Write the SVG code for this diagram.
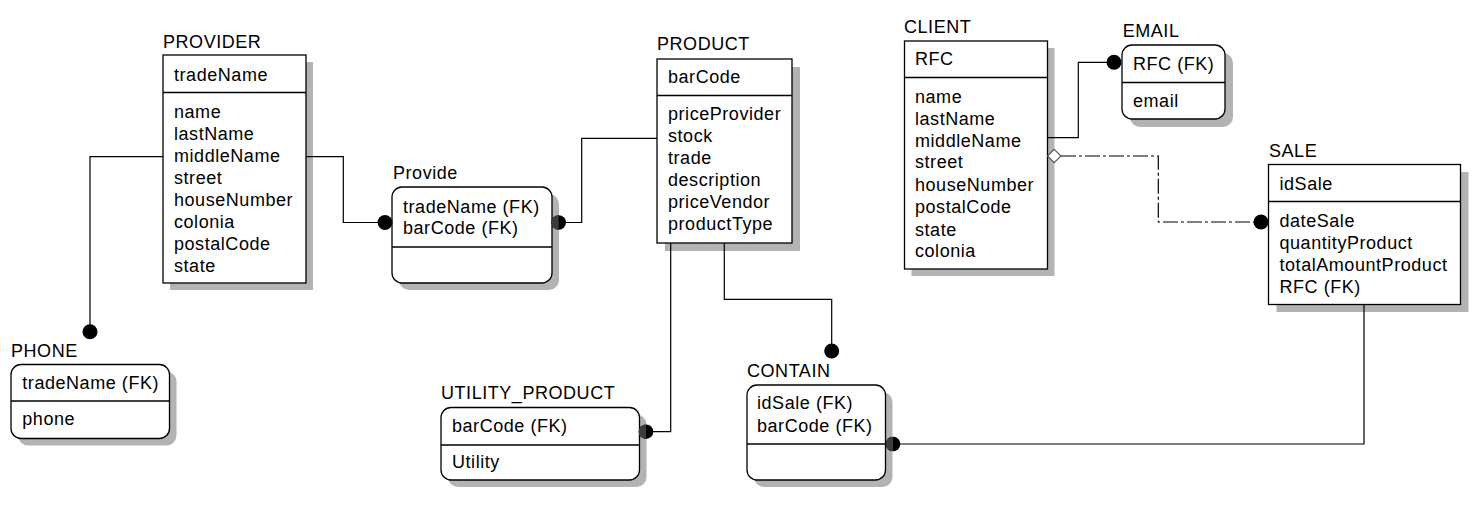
<svg xmlns="http://www.w3.org/2000/svg" width="1479" height="516" viewBox="0 0 1479 516">
<style>
text{font-family:"Liberation Sans",Arial,sans-serif;font-size:18px;letter-spacing:0.55px;fill:#000}
.box{fill:#fff;stroke:#000;stroke-width:1.3}
.sh{fill:#b3b3b3}
.sep{stroke:#000;stroke-width:1.3}
.conn{fill:none;stroke:#000;stroke-width:1.2}
.dash{stroke-dasharray:15 3 3 3}
.dot{fill:#000}
.half{fill:#3c3c3c}
</style>
<rect width="1479" height="516" fill="#fff"/>
<g id="PROVIDER">
<rect class="sh" x="170" y="62" width="143" height="228"/>
<rect class="box" x="163" y="55" width="143" height="228"/>
<line class="sep" x1="163" y1="92.5" x2="306" y2="92.5"/>
<text x="163" y="48.3">PROVIDER</text>
<text x="174" y="81">tradeName</text>
<text x="174" y="117.7">name</text>
<text x="174" y="139.7">lastName</text>
<text x="174" y="161.7">middleName</text>
<text x="174" y="183.5">street</text>
<text x="174" y="205.5">houseNumber</text>
<text x="174" y="227.5">colonia</text>
<text x="174" y="249.7">postalCode</text>
<text x="174" y="271.7">state</text>
</g>
<g id="Provide">
<rect class="sh" x="399" y="194" width="160" height="96" rx="10"/>
<rect class="box" x="392" y="187" width="160" height="96" rx="10"/>
<line class="sep" x1="392" y1="247" x2="552" y2="247"/>
<text x="393" y="179.3">Provide</text>
<text x="403" y="212.7">tradeName (FK)</text>
<text x="403" y="234">barCode (FK)</text>
</g>
<g id="PRODUCT">
<rect class="sh" x="665" y="67" width="135" height="184"/>
<rect class="box" x="657" y="59" width="135" height="184"/>
<line class="sep" x1="657" y1="95.5" x2="792" y2="95.5"/>
<text x="657" y="50">PRODUCT</text>
<text x="668" y="83.3">barCode</text>
<text x="668" y="120">priceProvider</text>
<text x="668" y="142.3">stock</text>
<text x="668" y="164">trade</text>
<text x="668" y="186">description</text>
<text x="668" y="208.3">priceVendor</text>
<text x="668" y="230">productType</text>
</g>
<g id="CLIENT">
<rect class="sh" x="911.5" y="48" width="143" height="228"/>
<rect class="box" x="904.5" y="41" width="143" height="228"/>
<line class="sep" x1="904.5" y1="77.5" x2="1047.5" y2="77.5"/>
<text x="904" y="32.7">CLIENT</text>
<text x="915" y="65">RFC</text>
<text x="915" y="102.7">name</text>
<text x="915" y="125">lastName</text>
<text x="915" y="146.7">middleName</text>
<text x="915" y="168.3">street</text>
<text x="915" y="191">houseNumber</text>
<text x="915" y="213.3">postalCode</text>
<text x="915" y="235.7">state</text>
<text x="915" y="257.3">colonia</text>
</g>
<g id="EMAIL">
<rect class="sh" x="1130" y="53" width="103" height="74" rx="10"/>
<rect class="box" x="1122" y="45" width="103" height="74" rx="10"/>
<line class="sep" x1="1122" y1="82.5" x2="1225" y2="82.5"/>
<text x="1122.7" y="37.3">EMAIL</text>
<text x="1133" y="70">RFC (FK)</text>
<text x="1133" y="106.7">email</text>
</g>
<g id="SALE">
<rect class="sh" x="1276.5" y="172" width="192" height="140"/>
<rect class="box" x="1268.5" y="164.5" width="192" height="140"/>
<line class="sep" x1="1268.5" y1="201.5" x2="1460.5" y2="201.5"/>
<text x="1269" y="156.7">SALE</text>
<text x="1279.5" y="190">idSale</text>
<text x="1279.5" y="227.3">dateSale</text>
<text x="1279.5" y="249">quantityProduct</text>
<text x="1279.5" y="270.7">totalAmountProduct</text>
<text x="1279.5" y="293.3">RFC (FK)</text>
</g>
<g id="PHONE">
<rect class="sh" x="18" y="371.5" width="158.5" height="74" rx="10"/>
<rect class="box" x="11" y="364.5" width="158.5" height="74" rx="10"/>
<line class="sep" x1="11" y1="401" x2="169.5" y2="401"/>
<text x="11" y="356.7">PHONE</text>
<text x="22.3" y="389.3">tradeName (FK)</text>
<text x="22.3" y="425">phone</text>
</g>
<g id="UTILITY_PRODUCT">
<rect class="sh" x="448" y="414.5" width="198.5" height="72.5" rx="10"/>
<rect class="box" x="441" y="407.5" width="198.5" height="72.5" rx="10"/>
<line class="sep" x1="441" y1="445" x2="639.5" y2="445"/>
<text x="441" y="399.3">UTILITY_PRODUCT</text>
<text x="452" y="432.3">barCode (FK)</text>
<text x="452" y="468.3">Utility</text>
</g>
<g id="CONTAIN">
<rect class="sh" x="754" y="392" width="138.5" height="95" rx="10"/>
<rect class="box" x="747" y="385" width="138.5" height="95" rx="10"/>
<line class="sep" x1="747" y1="444" x2="885.5" y2="444"/>
<text x="747" y="377.3">CONTAIN</text>
<text x="757" y="409.3">idSale (FK)</text>
<text x="757" y="431.7">barCode (FK)</text>
</g>
<g id="connectors">
<path class="conn" d="M306 156.7H343.3V222.5H385"/>
<path class="conn" d="M163 156.7H90V331.7"/>
<path class="conn" d="M657 138.3H581.7V222.5H558.7"/>
<path class="conn" d="M670.7 243V431.7H646"/>
<path class="conn" d="M724.3 243V299.3H831.7V351"/>
<path class="conn" d="M1047.5 137.7H1078.3V62.3H1114"/>
<path class="conn dash" d="M1061 156H1158.3V222H1261"/>
<path class="conn" d="M1364 304.5V444H893"/>
<circle class="dot" cx="385" cy="222.5" r="7.5"/>
<circle class="dot" cx="90" cy="331.7" r="7.5"/>
<circle class="dot" cx="558.7" cy="222.5" r="7.3"/>
<path class="half" d="M558.7 215.2A7.3 7.3 0 0 0 558.7 229.8Z"/>
<circle class="dot" cx="646" cy="431.7" r="7.3"/>
<path class="half" d="M646 424.4A7.3 7.3 0 0 0 646 439Z"/>
<circle class="dot" cx="831.7" cy="351" r="7.5"/>
<circle class="dot" cx="1114" cy="62.3" r="7.5"/>
<circle class="dot" cx="1261" cy="222" r="7.5"/>
<circle class="dot" cx="893" cy="444" r="7.3"/>
<path class="half" d="M893 436.7A7.3 7.3 0 0 0 893 451.3Z"/>
<path d="M1047.5 156L1054.2 149.3L1061 156L1054.2 162.7Z" fill="#fff" stroke="#555" stroke-width="1.2"/>
</g>
</svg>
